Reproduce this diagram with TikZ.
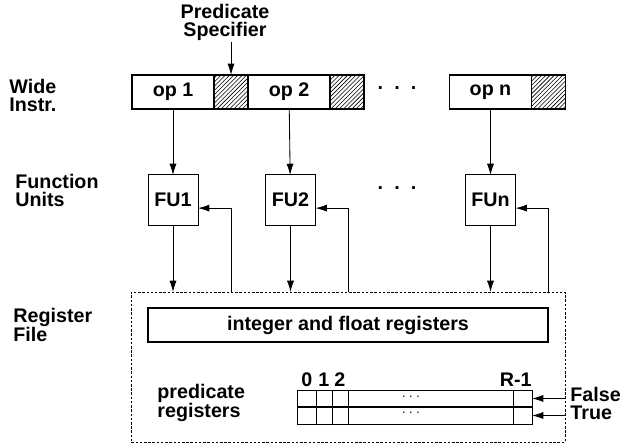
\documentclass[tikz,border=0pt]{standalone}
\usepackage{fontspec}
\setmainfont{Liberation Sans}
\usetikzlibrary{arrows.meta,patterns,calc,positioning}
\tikzset{
  every node/.style={font=\fontsize{14}{12.8}\selectfont\bfseries},
  opbox/.style={draw, line width=0.8pt, minimum width=2.05cm, minimum height=0.85cm, inner sep=0pt, outer sep=0pt},
  predbox/.style={draw, line width=0.8pt, pattern=north east lines, minimum width=0.85cm, minimum height=0.85cm, inner sep=0pt, outer sep=0pt},
  fubox/.style={draw, line width=0.7pt, minimum size=1.25cm, inner sep=0pt, outer sep=0pt},
  rowbox/.style={draw, line width=0.7pt, minimum width=5.85cm, minimum height=0.425cm, inner sep=0pt, outer sep=0pt},
  lbl/.style={anchor=base west, align=left, inner sep=0pt},
  rowdots/.style={inner sep=0pt, font=\fontsize{9}{9}\selectfont},
}

\begin{document}
\begin{tikzpicture}[x=0.025cm, y=-0.025cm, >={Latex[length=8pt,width=5pt]}, line width=0.6pt]
    \useasboundingbox (0,0) rectangle (620,444);

    % labels on the left
    \node[lbl] (wide) at (9,112) {Wide\\Instr.};
    \node[lbl] (func) at (15,207) {Function\\Units};
    \node[lbl] (regf) at (13,342) {Register\\File};

    % wide instruction
    \node[anchor=base, align=center, inner sep=0pt] (spec) at (225,37) {Predicate\\Specifier};
    \node[opbox] (op1) at (173,92) {op 1};
    \node[predbox, right=0pt of op1] (p1) {};
    \node[opbox, right=0pt of p1] (op2) {op 2};
    \node[predbox, right=0pt of op2] (p2) {};
    \node (dotsA) at (397,88) {.\hspace{8pt}.\hspace{8pt}.};
    \node[opbox] (opn) at (490.5,92) {op n};
    \node[predbox, right=0pt of opn] (pn) {};

    % function units
    \node[fubox] (fu1) at (173,200) {FU1};
    \node[fubox] (fu2) at (290.5,200) {FU2};
    \node (dotsB) at (397,188) {.\hspace{8pt}.\hspace{8pt}.};
    \node[fubox] (fun) at (490.5,200) {FUn};

    % register file
    \node[draw, dash pattern=on 1.8pt off 1.2pt, minimum width=10.84cm, minimum height=3.75cm, inner sep=0pt, outer sep=0pt] (rf) at (348.25,367) {};
    \node[draw, line width=0.8pt, minimum width=10cm, minimum height=0.85cm] (ifr) at (348,325) {integer and float registers};
    \node[lbl] (predlbl) at (157,418) {predicate\\registers};
    \node[rowbox] (predF) at (415,398.5) {};
    \node[rowbox, below=0pt of predF] (predT) {};
    \node[rowdots] (dotsF) at (411,397) {.\hspace{2.5pt}.\hspace{2.5pt}.};
    \node[rowdots] (dotsT) at (411,413) {.\hspace{2.5pt}.\hspace{2.5pt}.};
    \draw[line width=1.4pt] (predF.south west) -- (predF.south east);
    \foreach \c in {18,34,50,215}
        \draw ($(predF.north west)+(\c,0)$) -- ($(predT.south west)+(\c,0)$);
    \node[anchor=base] (c0) at ($(predF.north west)+(9,-3)$) {0};
    \node[anchor=base] (c1) at ($(predF.north west)+(26,-3)$) {1};
    \node[anchor=base] (c2) at ($(predF.north west)+(42,-3)$) {2};
    \node[anchor=base east, inner sep=0pt] (cR) at ($(predF.north east)+(0,-3)$) {R-1};
    \node[lbl] (ft) at (570,420) {False\\True};

    % connections
    \draw[->] (spec.south -| p1) -- (p1);
    \foreach \i in {1,2,n} {
        \draw[->] (op\i) -- (fu\i);
        \draw[->] (fu\i) -- (fu\i |- rf.north);
        \draw[->] ($(fu\i.east |- rf.north)+(33,0)$) |- (fu\i.-18);
    }
    \draw[->] (predF -| rf.east) -- (predF.east);
    \draw[->] (predT -| rf.east) -- (predT.east);
\end{tikzpicture}
\end{document}
